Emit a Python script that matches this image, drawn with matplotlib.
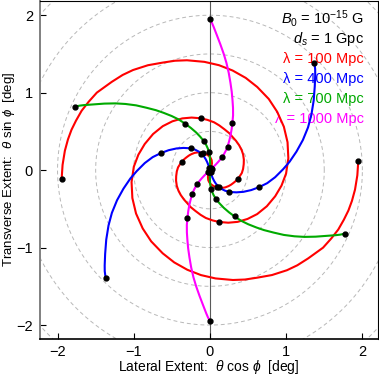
import numpy as np
import matplotlib
matplotlib.use("Agg")
import matplotlib.pyplot as plt

plt.rcParams['font.family'] = ['Liberation Sans', 'DejaVu Sans']
plt.rcParams['mathtext.fontset'] = 'custom'
plt.rcParams['mathtext.rm'] = 'Liberation Sans'
plt.rcParams['mathtext.it'] = 'Liberation Sans:italic'
plt.rcParams['font.size'] = 10.5

# one arm of each halo: angular radius theta [deg] and azimuth phi [deg]
# (the second arm is the same arm turned by 180 deg)
phi_red = [-294, -290, -287, -280, -275, -270, -265, -260, -254, -247, -241, -235,
           -228, -220, -214, -208, -203, -197, -191, -185, -178, -170, -163, -155,
           -148, -140, -132, -125, -118, -110, -102, -95, -87, -79.8, -70.5, -61.5,
           -52, -42.5, -32, -21.5, -12, -2.5, 8.5, 19.5, 30, 40.5, 50, 60,
           68.5, 77, 85, 93, 102, 108, 114, 121, 128, 133, 138.5, 146,
           151, 155.5, 160, 164, 168, 172.5, 178, 183.5]
r_red = [0.03, 0.06, 0.09, 0.13, 0.15, 0.17, 0.185, 0.20, 0.22, 0.24, 0.26, 0.28,
         0.30, 0.32, 0.335, 0.35, 0.365, 0.38, 0.40, 0.42, 0.435, 0.45, 0.465, 0.48,
         0.49, 0.50, 0.51, 0.52, 0.54, 0.56, 0.59, 0.62, 0.65, 0.68, 0.72, 0.76,
         0.80, 0.84, 0.88, 0.92, 0.96, 1.00, 1.04, 1.08, 1.12, 1.16, 1.20, 1.24,
         1.28, 1.32, 1.36, 1.40, 1.45, 1.485, 1.52, 1.58, 1.64, 1.68, 1.72, 1.79,
         1.82, 1.85, 1.87, 1.89, 1.905, 1.92, 1.935, 1.95]

r_wide = [0.03, 0.07, 0.11, 0.15, 0.19, 0.24, 0.28, 0.33, 0.38, 0.45, 0.52, 0.60,
          0.68, 0.77, 0.86, 0.96, 1.05, 1.16, 1.28, 1.40, 1.51, 1.63, 1.75, 1.85,
          1.90, 1.95]
phi_blue = [-73.1, -72.1, -70.6, -68.6, -66.1, -62.1, -58.6, -53.4, -47.9, -39.6,
            -32.6, -25.4, -18.9, -12.6, -6.1, 0.7, 5.9, 11.9, 17.7, 23.2, 28.2,
            33.4, 38.2, 41.7, 43.4, 45.4]
phi_green = [87.4, 88.0, 88.8, 90.0, 91.4, 93.7, 95.7, 98.7, 101.8, 106.5, 110.5,
             114.7, 118.4, 122.0, 125.7, 129.5, 132.5, 136.0, 139.2, 142.4, 145.2,
             148.2, 151.0, 153.0, 154.0, 155.1]
phi_magenta = [42.6, 43.0, 43.6, 44.4, 45.4, 47.0, 48.4, 50.5, 52.7, 56.0, 58.8,
               61.7, 64.3, 66.8, 69.4, 72.1, 74.2, 76.6, 78.9, 81.1, 83.1, 85.2,
               87.1, 88.5, 89.2, 90.0]

# radii where the black markers sit
dot_r = [0.03, 0.24, 0.38, 0.68, 1.95]

labels = ['100', '400', '700', '1000']
colors = ['red', 'blue', '#00aa00', 'magenta']

fig = plt.figure(figsize=(3.79, 3.76), dpi=100)
ax = fig.add_axes([40/379, 37/376, 338/379, 338.5/376])

# dashed rings
t = np.linspace(0, 2*np.pi, 400)
for R in [0.5, 1.0, 1.5, 2.0, 2.5, 3.0]:
    ax.plot(R*np.cos(t), R*np.sin(t), color='0.72', lw=0.7, ls=(0, (4, 3)), zorder=1)
ax.axvline(0, color='0.35', lw=0.8, zorder=1)

curves = [(r_red, phi_red), (r_wide, phi_blue), (r_wide, phi_green), (r_wide, phi_magenta)]
for (r, phi), c in zip(curves, colors):
    r = np.array(r)
    a = np.radians(phi)
    keep = np.isin(r, dot_r)
    for s in (1, -1):
        x = s*r*np.cos(a)
        y = s*r*np.sin(a)
        ax.plot(x, y, color=c, lw=1.5, zorder=3)
        ax.plot(x[keep], y[keep], 'o', color='black', ms=3.5, zorder=5)

ax.text(2.02, 1.897, r'$B_0$ = 10$^{-15}$ G', ha='right', va='baseline', zorder=2)
ax.text(2.02, 1.639, r'$d_s$ = 1 Gpc', ha='right', va='baseline', zorder=2)
for i, (lab, c) in enumerate(zip(labels, colors)):
    ax.text(2.02, 1.381 - 0.258*i, 'λ = ' + lab + ' Mpc', color=c,
            ha='right', va='baseline', zorder=2)

ax.set_xlim(-2.23, 2.205)
ax.set_ylim(-2.18, 2.19)
ax.set_xticks([-2, -1, 0, 1, 2])
ax.set_yticks([-2, -1, 0, 1, 2])
ax.tick_params(direction='in', length=4, width=0.8, pad=4)
ax.tick_params(axis='y', pad=5)
ax.spines['left'].set_color('0.5')
ax.spines['left'].set_linewidth(1.4)
ax.spines['bottom'].set_linewidth(1.2)
ax.set_xlabel(r'Lateral Extent:  $\theta$ cos $\phi$  [deg]', fontsize=10)
ax.set_ylabel(r'Transverse Extent:  $\theta$ sin $\phi$  [deg]', fontsize=9.5)
ax.xaxis.set_label_coords(0.5, -0.056)
ax.yaxis.set_label_coords(-0.069, 0.5)

fig.savefig('out.png', dpi=100)
